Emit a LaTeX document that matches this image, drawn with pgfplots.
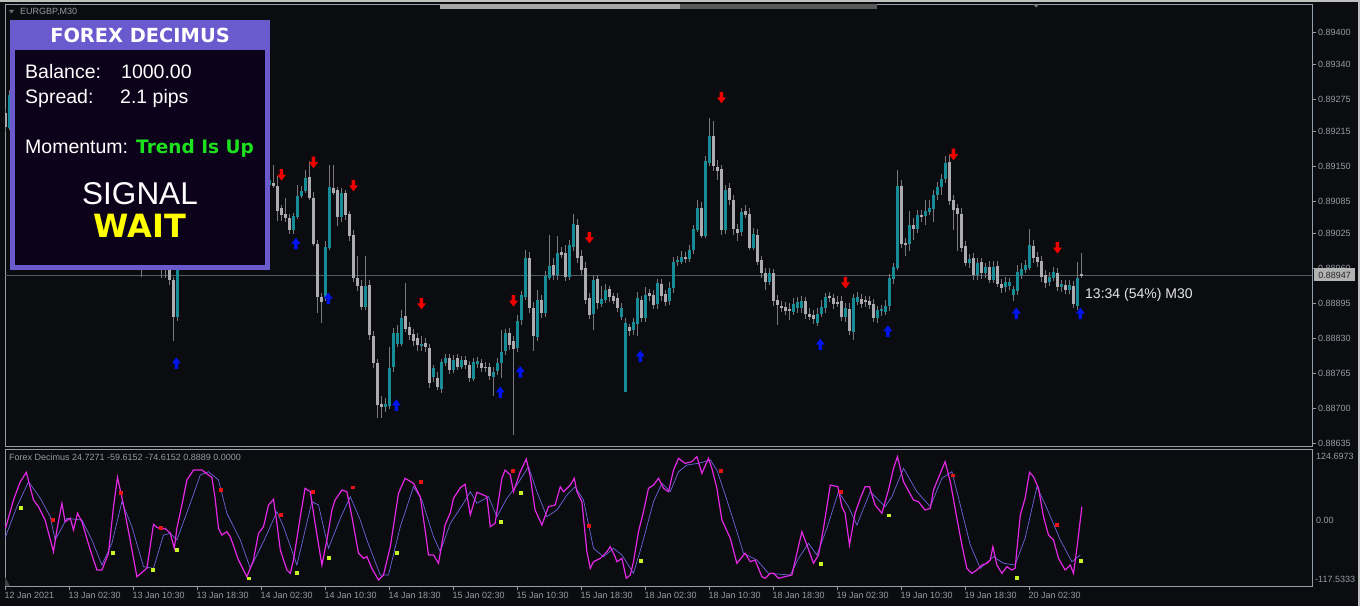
\documentclass[border=0pt]{standalone}
\usepackage{pgfplots}
\pgfplotsset{compat=1.18}
\usepackage{pgfplotstable}
\usepackage{fontspec}
\setmainfont{Liberation Sans}
\newfontfamily\djv{DejaVu Sans}

\definecolor{bg}{RGB}{10,12,16}
\definecolor{framecol}{RGB}{150,160,170}
\definecolor{labcol}{RGB}{150,156,162}
\definecolor{upcol}{RGB}{22,140,150}
\definecolor{dncol}{RGB}{172,172,176}
\definecolor{wickcol}{RGB}{120,120,126}
\definecolor{pricecol}{RGB}{80,92,102}
\definecolor{magcol}{RGB}{228,40,228}
\definecolor{sigcol}{RGB}{108,100,220}
\definecolor{dotred}{RGB}{230,20,20}
\definecolor{dotyel}{RGB}{200,245,40}
\definecolor{arrred}{RGB}{240,0,0}
\definecolor{arrblue}{RGB}{0,20,235}
\definecolor{panelborder}{RGB}{106,90,205}
\definecolor{panelbg}{RGB}{12,3,26}
\definecolor{trendgreen}{RGB}{30,225,30}
\definecolor{waityellow}{RGB}{255,255,0}

\pgfdeclareplotmark{dnarrow}{%
  \pgfpathmoveto{\pgfqpoint{-1.75pt}{6pt}}%
  \pgfpathlineto{\pgfqpoint{1.75pt}{6pt}}%
  \pgfpathlineto{\pgfqpoint{1.75pt}{0.5pt}}%
  \pgfpathlineto{\pgfqpoint{4.5pt}{0.5pt}}%
  \pgfpathlineto{\pgfqpoint{0pt}{-5.5pt}}%
  \pgfpathlineto{\pgfqpoint{-4.5pt}{0.5pt}}%
  \pgfpathlineto{\pgfqpoint{-1.75pt}{0.5pt}}%
  \pgfpathclose\pgfusepathqfill}
\pgfdeclareplotmark{uparrow}{%
  \pgfpathmoveto{\pgfqpoint{-1.75pt}{-6pt}}%
  \pgfpathlineto{\pgfqpoint{1.75pt}{-6pt}}%
  \pgfpathlineto{\pgfqpoint{1.75pt}{-0.5pt}}%
  \pgfpathlineto{\pgfqpoint{4.5pt}{-0.5pt}}%
  \pgfpathlineto{\pgfqpoint{0pt}{5.5pt}}%
  \pgfpathlineto{\pgfqpoint{-4.5pt}{-0.5pt}}%
  \pgfpathlineto{\pgfqpoint{-1.75pt}{-0.5pt}}%
  \pgfpathclose\pgfusepathqfill}

% EURGBP M30 candles: bar index, open, high, low, close
\pgfplotstableread{
i o h l c
0 0.89250 0.89259 0.89216 0.89224
1 0.89222 0.89292 0.89218 0.89283
2 0.89283 0.89292 0.89255 0.89265
3 0.89265 0.89296 0.89259 0.89289
4 0.89289 0.89311 0.89283 0.89302
5 0.89302 0.89308 0.89266 0.89274
6 0.89274 0.89281 0.89244 0.89252
7 0.89252 0.89272 0.89246 0.89265
8 0.89265 0.89270 0.89225 0.89233
9 0.89233 0.89240 0.89201 0.89209
10 0.89209 0.89218 0.89190 0.89199
11 0.89199 0.89224 0.89194 0.89218
12 0.89218 0.89225 0.89181 0.89190
13 0.89190 0.89237 0.89185 0.89227
14 0.89227 0.89248 0.89220 0.89240
15 0.89240 0.89246 0.89211 0.89218
16 0.89218 0.89235 0.89211 0.89227
17 0.89227 0.89235 0.89192 0.89199
18 0.89199 0.89222 0.89194 0.89214
19 0.89214 0.89220 0.89173 0.89181
20 0.89181 0.89188 0.89151 0.89158
21 0.89158 0.89166 0.89134 0.89144
22 0.89144 0.89151 0.89121 0.89129
23 0.89129 0.89155 0.89121 0.89147
24 0.89147 0.89153 0.89123 0.89132
25 0.89132 0.89170 0.89127 0.89162
26 0.89162 0.89192 0.89157 0.89185
27 0.89185 0.89207 0.89177 0.89199
28 0.89199 0.89205 0.89171 0.89181
29 0.89181 0.89188 0.89136 0.89144
30 0.89144 0.89151 0.89097 0.89106
31 0.89106 0.89114 0.89062 0.89069
32 0.89069 0.89078 0.89032 0.89041
33 0.89041 0.89067 0.89034 0.89060
34 0.89060 0.89065 0.88944 0.89013
35 0.89013 0.89035 0.89004 0.89028
36 0.89028 0.89054 0.89021 0.89047
37 0.89047 0.89052 0.89013 0.89022
38 0.89022 0.89043 0.89013 0.89035
39 0.89035 0.89043 0.88942 0.88994
40 0.88994 0.89013 0.88942 0.89004
41 0.89004 0.89013 0.88929 0.88939
42 0.88939 0.88946 0.88827 0.88870
43 0.88870 0.88994 0.88864 0.88985
44 0.88985 0.89032 0.88980 0.89022
45 0.89022 0.89069 0.89017 0.89060
46 0.89060 0.89106 0.89054 0.89097
47 0.89097 0.89134 0.89091 0.89125
48 0.89125 0.89140 0.89099 0.89106
49 0.89106 0.89162 0.89101 0.89144
50 0.89144 0.89151 0.89106 0.89116
51 0.89116 0.89125 0.89078 0.89088
52 0.89088 0.89097 0.89050 0.89060
53 0.89060 0.89088 0.89052 0.89078
54 0.89078 0.89086 0.89041 0.89050
55 0.89050 0.89073 0.89043 0.89065
56 0.89065 0.89073 0.89032 0.89041
57 0.89041 0.89050 0.89013 0.89022
58 0.89022 0.89043 0.89015 0.89035
59 0.89035 0.89043 0.89004 0.89013
60 0.89013 0.89041 0.89006 0.89032
61 0.89032 0.89058 0.89026 0.89050
62 0.89050 0.89088 0.89045 0.89078
63 0.89078 0.89088 0.89058 0.89065
64 0.89065 0.89106 0.89060 0.89097
65 0.89097 0.89125 0.89091 0.89116
66 0.89116 0.89132 0.89110 0.89125
67 0.89119 0.89153 0.89110 0.89114
68 0.89116 0.89134 0.89050 0.89069
69 0.89073 0.89080 0.89050 0.89060
70 0.89062 0.89091 0.89047 0.89054
71 0.89054 0.89062 0.89024 0.89032
72 0.89032 0.89065 0.89026 0.89058
73 0.89058 0.89116 0.89054 0.89097
74 0.89097 0.89114 0.89091 0.89106
75 0.89106 0.89144 0.89102 0.89130
76 0.89132 0.89162 0.89088 0.89093
77 0.89093 0.89102 0.89002 0.89007
78 0.89007 0.89013 0.88877 0.88907
79 0.88907 0.88916 0.88860 0.88898
80 0.88907 0.89013 0.88901 0.89000
81 0.89000 0.89153 0.88994 0.89112
82 0.89110 0.89153 0.89097 0.89102
83 0.89106 0.89114 0.89041 0.89056
84 0.89056 0.89110 0.89047 0.89101
85 0.89101 0.89106 0.89050 0.89060
86 0.89062 0.89069 0.89013 0.89021
87 0.89022 0.89032 0.88935 0.88942
88 0.88942 0.88985 0.88920 0.88927
89 0.88929 0.88939 0.88883 0.88890
90 0.88890 0.88985 0.88883 0.88929
91 0.88929 0.88939 0.88827 0.88836
92 0.88836 0.88845 0.88775 0.88784
93 0.88784 0.88793 0.88683 0.88706
94 0.88709 0.88724 0.88683 0.88704
95 0.88704 0.88719 0.88693 0.88709
96 0.88706 0.88814 0.88700 0.88777
97 0.88777 0.88849 0.88767 0.88840
98 0.88821 0.88855 0.88814 0.88842
99 0.88821 0.88883 0.88816 0.88870
100 0.88873 0.88933 0.88842 0.88849
101 0.88851 0.88860 0.88827 0.88836
102 0.88840 0.88849 0.88818 0.88827
103 0.88831 0.88840 0.88808 0.88818
104 0.88818 0.88836 0.88808 0.88821
105 0.88821 0.88831 0.88804 0.88814
106 0.88814 0.88821 0.88739 0.88749
107 0.88758 0.88782 0.88750 0.88775
108 0.88758 0.88767 0.88734 0.88741
109 0.88736 0.88793 0.88730 0.88786
110 0.88784 0.88801 0.88778 0.88793
111 0.88793 0.88801 0.88765 0.88771
112 0.88771 0.88799 0.88765 0.88791
113 0.88793 0.88801 0.88771 0.88777
114 0.88778 0.88797 0.88773 0.88790
115 0.88790 0.88797 0.88773 0.88780
116 0.88780 0.88788 0.88749 0.88756
117 0.88756 0.88793 0.88750 0.88786
118 0.88782 0.88795 0.88775 0.88788
119 0.88786 0.88793 0.88769 0.88777
120 0.88777 0.88786 0.88767 0.88775
121 0.88777 0.88784 0.88752 0.88760
122 0.88760 0.88778 0.88724 0.88769
123 0.88769 0.88793 0.88762 0.88784
124 0.88784 0.88845 0.88756 0.88806
125 0.88806 0.88849 0.88799 0.88840
126 0.88840 0.88849 0.88808 0.88818
127 0.88827 0.88836 0.88650 0.88812
128 0.88812 0.88873 0.88804 0.88864
129 0.88864 0.88920 0.88857 0.88911
130 0.88907 0.88994 0.88901 0.88980
131 0.88980 0.88991 0.88879 0.88888
132 0.88888 0.88898 0.88808 0.88836
133 0.88832 0.88920 0.88825 0.88901
134 0.88901 0.88911 0.88868 0.88877
135 0.88877 0.88957 0.88871 0.88946
136 0.88944 0.89022 0.88939 0.88967
137 0.88967 0.88980 0.88939 0.88948
138 0.88948 0.89022 0.88940 0.88989
139 0.88991 0.89000 0.88980 0.88987
140 0.88989 0.89004 0.88937 0.88944
141 0.88944 0.89013 0.88939 0.89004
142 0.89000 0.89063 0.88994 0.89043
143 0.89043 0.89054 0.88972 0.88981
144 0.88983 0.88994 0.88948 0.88957
145 0.88961 0.88972 0.88894 0.88903
146 0.88905 0.88916 0.88866 0.88873
147 0.88877 0.88948 0.88845 0.88939
148 0.88940 0.88948 0.88886 0.88896
149 0.88896 0.88929 0.88890 0.88905
150 0.88903 0.88931 0.88896 0.88922
151 0.88922 0.88929 0.88899 0.88907
152 0.88909 0.88916 0.88894 0.88901
153 0.88905 0.88914 0.88879 0.88886
154 0.88870 0.88896 0.88864 0.88886
155 0.88730 0.88868 0.88730 0.88860
156 0.88851 0.88858 0.88836 0.88844
157 0.88845 0.88868 0.88838 0.88860
158 0.88858 0.88916 0.88834 0.88905
159 0.88903 0.88911 0.88862 0.88870
160 0.88870 0.88927 0.88862 0.88913
161 0.88914 0.88924 0.88901 0.88909
162 0.88913 0.88920 0.88886 0.88894
163 0.88894 0.88942 0.88886 0.88933
164 0.88933 0.88942 0.88901 0.88909
165 0.88913 0.88920 0.88892 0.88899
166 0.88899 0.88935 0.88892 0.88924
167 0.88924 0.88983 0.88916 0.88974
168 0.88972 0.88985 0.88965 0.88976
169 0.88974 0.88993 0.88968 0.88983
170 0.88981 0.88991 0.88970 0.88978
171 0.88978 0.89004 0.88972 0.88996
172 0.88994 0.89041 0.88987 0.89034
173 0.89034 0.89088 0.89028 0.89075
174 0.89075 0.89084 0.89017 0.89022
175 0.89022 0.89171 0.89017 0.89162
176 0.89157 0.89240 0.89151 0.89207
177 0.89207 0.89237 0.89144 0.89151
178 0.89151 0.89162 0.89125 0.89144
179 0.89145 0.89153 0.89022 0.89032
180 0.89032 0.89116 0.89026 0.89108
181 0.89110 0.89119 0.89078 0.89088
182 0.89089 0.89097 0.89022 0.89035
183 0.89035 0.89043 0.89013 0.89028
184 0.89028 0.89075 0.89022 0.89065
185 0.89069 0.89078 0.89054 0.89062
186 0.89063 0.89073 0.88994 0.89000
187 0.89000 0.89035 0.88994 0.89026
188 0.89024 0.89035 0.88967 0.88974
189 0.88976 0.88985 0.88944 0.88952
190 0.88952 0.88961 0.88920 0.88935
191 0.88935 0.88961 0.88929 0.88952
192 0.88952 0.88961 0.88892 0.88899
193 0.88901 0.88911 0.88855 0.88892
194 0.88892 0.88901 0.88879 0.88888
195 0.88888 0.88898 0.88873 0.88881
196 0.88885 0.88896 0.88864 0.88881
197 0.88881 0.88905 0.88873 0.88896
198 0.88886 0.88907 0.88879 0.88898
199 0.88886 0.88909 0.88879 0.88899
200 0.88899 0.88909 0.88868 0.88875
201 0.88877 0.88886 0.88864 0.88871
202 0.88873 0.88883 0.88858 0.88866
203 0.88860 0.88886 0.88853 0.88877
204 0.88877 0.88901 0.88870 0.88890
205 0.88886 0.88916 0.88879 0.88907
206 0.88909 0.88918 0.88898 0.88905
207 0.88905 0.88914 0.88886 0.88894
208 0.88899 0.88909 0.88888 0.88896
209 0.88899 0.88909 0.88862 0.88870
210 0.88870 0.88896 0.88862 0.88886
211 0.88886 0.88896 0.88836 0.88844
212 0.88842 0.88913 0.88827 0.88905
213 0.88899 0.88916 0.88892 0.88907
214 0.88905 0.88914 0.88888 0.88896
215 0.88901 0.88911 0.88890 0.88898
216 0.88899 0.88909 0.88885 0.88892
217 0.88894 0.88903 0.88860 0.88868
218 0.88868 0.88892 0.88860 0.88883
219 0.88881 0.88894 0.88873 0.88885
220 0.88881 0.88901 0.88873 0.88892
221 0.88890 0.88952 0.88883 0.88942
222 0.88940 0.88972 0.88933 0.88963
223 0.88963 0.89144 0.88957 0.89116
224 0.89114 0.89125 0.88998 0.89007
225 0.89007 0.89017 0.88985 0.89006
226 0.89006 0.89069 0.88994 0.89041
227 0.89041 0.89054 0.89013 0.89034
228 0.89034 0.89069 0.89026 0.89060
229 0.89060 0.89069 0.89047 0.89058
230 0.89058 0.89088 0.89041 0.89067
231 0.89067 0.89088 0.89060 0.89073
232 0.89071 0.89106 0.89047 0.89097
233 0.89097 0.89121 0.89088 0.89112
234 0.89112 0.89136 0.89097 0.89127
235 0.89127 0.89171 0.89121 0.89157
236 0.89158 0.89171 0.89078 0.89086
237 0.89088 0.89097 0.89032 0.89069
238 0.89073 0.89082 0.88994 0.89062
239 0.89063 0.89073 0.88991 0.89000
240 0.89002 0.89013 0.88965 0.88972
241 0.88970 0.88987 0.88961 0.88978
242 0.88980 0.88989 0.88939 0.88948
243 0.88948 0.88981 0.88939 0.88972
244 0.88972 0.88981 0.88942 0.88952
245 0.88952 0.88972 0.88944 0.88963
246 0.88965 0.88974 0.88933 0.88940
247 0.88940 0.88974 0.88933 0.88965
248 0.88965 0.88974 0.88926 0.88933
249 0.88933 0.88942 0.88916 0.88926
250 0.88926 0.88944 0.88916 0.88935
251 0.88929 0.88944 0.88920 0.88935
252 0.88911 0.88929 0.88901 0.88922
253 0.88918 0.88967 0.88911 0.88954
254 0.88950 0.88972 0.88942 0.88961
255 0.88959 0.88976 0.88952 0.88967
256 0.88963 0.89034 0.88957 0.89006
257 0.89002 0.89013 0.88970 0.88980
258 0.88981 0.88991 0.88963 0.88972
259 0.88974 0.88983 0.88935 0.88944
260 0.88948 0.88957 0.88924 0.88933
261 0.88935 0.88954 0.88927 0.88944
262 0.88944 0.88963 0.88937 0.88954
263 0.88952 0.88961 0.88918 0.88926
264 0.88926 0.88940 0.88918 0.88931
265 0.88929 0.88939 0.88913 0.88920
266 0.88920 0.88939 0.88913 0.88929
267 0.88927 0.88937 0.88886 0.88894
268 0.88890 0.88972 0.88883 0.88942
269 0.88952 0.88989 0.88942 0.88947
}\candles

% Forex Decimus oscillator, main line
\pgfplotstableread{
i v
0 -15.5
2.0 34.5
3.7 66.9
5.2 83.5
7.0 34.5
8.25 22.7
9.9 -0.9
12.0 -56.9
12.85 -18.5
14.1 28.7
14.9 -3.9
16.2 2.1
17.0 -18.5
18.0 11.0
19.1 -3.9
21.2 -53.9
22.85 -89.3
24.1 -89.3
25.75 -59.7
27.0 22.7
28.0 74.6
29.5 25.7
31.0 -30.4
32.85 -101.1
35.35 -86.3
37.0 -8.5
37.85 -13.8
39.1 -17.3
39.9 -15.5
41.2 -24.4
42.2 -50.9
42.85 -15.5
44.1 25.7
45.35 69.9
47.0 87.5
49.1 87.5
50.75 78.7
51.6 74.6
52.4 37.5
53.25 -15.5
54.1 -27.4
55.35 -21.5
56.2 -30.4
58.25 -71.6
60.35 -101.1
62.0 -71.6
63.25 -24.4
64.5 -12.7
65.75 25.7
67.0 35.7
67.85 -6.7
68.7 -53.9
70.35 -89.3
71.2 -95.1
72.0 -71.6
73.7 5.0
74.9 55.2
76.2 49.2
77.4 -6.7
79.1 -80.4
80.35 -36.2
81.6 16.8
82.4 34.5
84.1 52.2
85.35 49.2
86.6 5.0
88.25 -59.7
89.5 -68.6
90.35 -65.7
91.6 -86.3
93.25 -106.9
94.5 -98.1
96.2 -48.1
98.25 46.3
99.9 72.9
102.0 64.0
103.7 40.3
104.9 -18.5
105.75 -62.7
107.0 -62.7
108.25 -77.4
109.9 -9.7
111.2 12.0
112.0 37.5
113.7 56.2
114.9 62.3
116.2 8.0
117.85 48.1
119.5 43.3
120.35 40.3
121.2 -12.7
122.4 -6.7
124.1 72.9
124.9 87.5
126.2 78.7
127.0 49.2
128.7 84.5
130.2 107.0
131.2 75.7
132.4 16.8
134.1 -9.7
135.75 22.7
137.4 25.7
138.7 58.0
139.5 49.2
141.2 61.0
142.2 72.9
142.85 49.2
144.1 31.5
145.35 -56.9
146.2 -86.3
147.0 -74.6
148.7 -68.6
150.35 -56.9
151.2 -48.1
152.4 -65.7
152.85 -74.6
154.1 -68.6
155.2 -103.9
156.2 -98.1
157.0 -74.6
158.25 -21.5
159.5 13.8
160.75 55.2
162.0 61.0
163.25 72.9
164.5 55.2
165.75 49.2
167.0 87.5
168.25 108.2
169.9 99.4
171.6 102.2
172.85 111.1
174.1 81.7
175.75 108.2
176.6 90.5
177.85 55.2
179.1 -0.9
181.2 -33.2
182.85 -77.4
184.9 -59.7
186.2 -74.6
187.4 -71.6
189.1 -101.1
189.9 -103.9
191.2 -95.1
192.0 -95.1
193.25 -103.9
194.9 -101.1
196.6 -98.1
197.85 -59.7
199.1 -21.5
200.35 -45.1
202.0 -77.4
203.25 -62.7
204.5 -15.5
206.2 61.0
208.1 58.0
209.1 22.7
209.9 11.0
211.0 -45.1
212.4 11.0
213.7 37.5
214.9 58.0
216.0 58.0
217.4 25.7
219.1 11.0
220.75 52.2
222.0 90.5
223.0 111.1
224.5 66.9
227.0 34.5
228.25 31.5
229.9 16.8
231.2 19.8
232.0 52.2
233.7 81.7
234.9 102.2
236.2 66.9
237.85 2.1
239.1 -45.1
240.35 -86.3
241.6 -95.1
242.85 -89.3
244.1 -80.4
245.35 -77.4
246.2 -71.6
246.85 -48.1
247.85 -80.4
249.1 -95.1
250.35 -83.4
251.6 -89.3
252.4 -86.3
253.7 8.0
254.9 37.5
256.0 83.5
257.0 75.7
258.25 55.2
259.5 5.0
260.75 -27.4
262.0 -36.2
263.25 -68.6
264.9 -89.3
266.2 -80.4
267.0 -95.1
267.85 -50.9
269.1 22.7
}\magline

% signal line
\pgfplotstableread{
i v
0 -30.4
2.85 22.7
5.75 66.9
8.7 37.5
11.2 5.0
12.4 -36.2
15.35 2.1
19.1 -0.9
21.6 -36.2
24.1 -80.4
26.6 -42.1
29.1 31.5
31.6 -12.7
34.5 -83.4
37.0 -86.3
39.5 -27.4
41.2 -24.4
42.85 -36.2
46.2 28.7
48.7 78.7
50.75 84.5
53.25 69.9
55.35 11.0
58.7 -36.2
61.2 -86.3
64.5 -39.2
67.85 13.8
69.5 -12.7
72.85 -80.4
76.6 31.5
78.25 25.7
80.75 -50.9
83.7 2.1
86.2 40.3
88.7 -0.9
90.35 -36.2
93.7 -98.1
95.75 -98.1
98.7 -12.7
102.0 58.0
104.1 34.5
107.0 -30.4
108.7 -56.9
111.2 -6.7
114.5 28.7
116.2 49.2
117.85 28.7
120.75 40.3
122.85 5.0
125.35 37.5
127.85 61.0
130.75 93.4
132.85 49.2
135.35 5.0
137.85 16.8
140.35 43.3
142.4 58.0
144.5 34.5
147.0 -50.9
149.5 -65.7
152.0 -50.9
154.1 -62.7
157.0 -95.1
159.1 -45.1
162.0 31.5
164.1 64.0
166.2 49.2
168.25 84.5
170.35 96.4
173.25 99.4
176.2 105.2
177.85 87.5
180.35 34.5
182.85 -21.5
184.5 -59.7
187.85 -71.6
190.75 -95.1
196.2 -98.1
198.25 -68.6
200.75 -42.1
202.85 -62.7
205.35 -15.5
208.25 49.2
210.75 22.7
212.85 -9.7
216.2 49.2
219.9 22.7
221.6 40.3
224.5 90.5
227.85 49.2
231.2 22.7
234.1 72.9
236.6 84.5
238.7 25.7
241.2 -45.1
243.7 -86.3
247.0 -65.7
249.5 -77.4
252.4 -80.4
254.9 -33.2
257.85 58.0
260.35 19.8
263.7 -36.2
266.6 -74.6
268.7 -62.7
}\sigline

\begin{document}
\begin{tikzpicture}[x=1pt,y=1pt]
\fill[bg] (0,0) rectangle (1360,606);
\useasboundingbox (0,0) rectangle (1360,606);
% window edges
\fill[black!25] (0,604) rectangle (1360,606);
\fill[black!25] (1358,0) rectangle (1360,606);

% ---------- price panel ----------
\begin{axis}[
  at={(5pt,159.3pt)}, anchor=south west,
  scale only axis, width=1307pt, height=442.7pt,
  xmin=-0.125, xmax=326.625,
  ymin=0.88628, ymax=0.894527,
  axis line style={framecol, line width=0.8pt},
  xtick=\empty,
  ytick={0.89400,0.89340,0.89275,0.89215,0.89150,0.89085,0.89025,0.88960,0.88895,0.88830,0.88765,0.88700,0.88635},
  yticklabels={0.89400,0.89340,0.89275,0.89215,0.89150,0.89085,0.89025,0.88960,0.88895,0.88830,0.88765,0.88700,0.88635},
  scaled y ticks=false,
  ytick pos=right, yticklabel pos=right,
  tick align=outside, major tick length=4pt,
  tick style={labcol, line width=0.6pt},
  yticklabel style={font=\fontsize{9}{10}\selectfont, text=labcol, anchor=west, inner sep=0pt, xshift=2pt},
]
\addplot[pricecol, line width=0.8pt, forget plot] coordinates {(-1,0.88947) (330,0.88947)};
% wicks
\addplot[draw=none, mark=none, forget plot,
  error bars/.cd, y dir=both, y explicit, error mark=none,
  error bar style={draw=wickcol, line width=1pt}]
  table[x=i, y expr={(\thisrow{h}+\thisrow{l})/2}, y error expr={(\thisrow{h}-\thisrow{l})/2}] {\candles};
% bullish bodies
\addplot[draw=none, mark=none, forget plot,
  restrict expr to domain={\thisrow{c}-\thisrow{o}}{0:1},
  error bars/.cd, y dir=both, y explicit, error mark=none,
  error bar style={draw=upcol, line width=3pt}]
  table[x=i, y expr={(\thisrow{o}+\thisrow{c})/2}, y error expr={max(abs(\thisrow{c}-\thisrow{o})/2,0.000009)}] {\candles};
% bearish bodies
\addplot[draw=none, mark=none, forget plot,
  restrict expr to domain={\thisrow{c}-\thisrow{o}}{-1:-0.000001},
  error bars/.cd, y dir=both, y explicit, error mark=none,
  error bar style={draw=dncol, line width=3pt}]
  table[x=i, y expr={(\thisrow{o}+\thisrow{c})/2}, y error expr={max(abs(\thisrow{c}-\thisrow{o})/2,0.000009)}] {\candles};
% sell arrows
\addplot[only marks, mark=dnarrow, arrred] coordinates {
(69,0.89134) (77,0.89157) (87,0.89114) (104,0.88894) (127,0.88899)
(146,0.89017) (179,0.89278) (210,0.88933) (237,0.89172) (263,0.88998)};
% buy arrows
\addplot[only marks, mark=uparrow, arrblue] coordinates {
(42.7,0.88784) (72.6,0.89007) (80.7,0.88905) (97.7,0.88706) (123.7,0.88730)
(128.7,0.88768) (158.7,0.88797) (203.7,0.88819) (220.6,0.88844) (252.7,0.88877) (268.7,0.88877)};
\end{axis}

% ---------- oscillator panel ----------
\begin{axis}[
  at={(5pt,20pt)}, anchor=south west,
  scale only axis, width=1307pt, height=137pt,
  xmin=-0.125, xmax=326.625,
  ymin=-117.5333, ymax=124.6973,
  axis line style={framecol, line width=0.8pt},
  ytick=\empty,
  xtick={0,16,...,256},
  xticklabels={12 Jan 2021,13 Jan 02:30,13 Jan 10:30,13 Jan 18:30,14 Jan 02:30,14 Jan 10:30,14 Jan 18:30,15 Jan 02:30,15 Jan 10:30,15 Jan 18:30,18 Jan 02:30,18 Jan 10:30,18 Jan 18:30,19 Jan 02:30,19 Jan 10:30,19 Jan 18:30,20 Jan 02:30},
  xtick pos=left, tick align=outside, major tick length=4pt,
  tick style={labcol, line width=0.6pt},
  xticklabel style={font=\fontsize{9}{10}\selectfont, text=labcol, anchor=north west, inner sep=0pt, xshift=-1pt, yshift=-2pt},
]
\addplot[sigcol, line width=0.7pt] table[x=i, y=v] {\sigline};
\addplot[magcol, line width=1.2pt] table[x=i, y=v] {\magline};
\addplot[only marks, mark=square*, mark size=1.4pt, dotyel] coordinates {
(3.85,20.9) (26.75,-58.0) (36.85,-88.0) (42.85,-52.7) (60.75,-103.9) (72.85,-94.0)
(80.75,-66.8) (97.85,-58.0) (123.75,-3.2) (128.75,48.1) (158.75,-72.1) (203.75,-78.7)
(220.75,7.5) (252.75,-102.2) (268.85,-73.3)};
\addplot[only marks, mark=square*, mark size=1.4pt, dotred] coordinates {
(11.75,0.4) (28.85,48.1) (38.85,-13.8) (53.85,53.4) (68.85,9.2) (76.85,49.9) (86.85,57.0)
(103.85,66.9) (126.85,85.8) (145.75,-11.5) (178.9,87.0) (208.85,49.9) (236.85,78.2) (262.85,-8.5)};
\end{axis}

% oscillator scale labels
\begin{scope}[every node/.style={font=\fontsize{9}{10}\selectfont, text=labcol, anchor=west, inner sep=0pt}]
\node at (1316,150) {124.6973};
\node at (1316,85.7) {0.00};
\node at (1315,26.7) {-117.5333};
\node at (9,149) {Forex Decimus 24.7271 -59.6152 -74.6152 0.8889 0.0000};
\node at (20,594) {EURGBP,M30};
\end{scope}
\fill[labcol!70!bg] (9,596) -- (14,596) -- (11.5,592.5) -- cycle;
\fill[black!60!framecol] (5,20) -- (10,20) -- (5,29) -- cycle;

% top scroll bar
\fill[black!65] (440,597) rectangle (877,602);
\fill[black!35] (440,597) rectangle (680,602);
\fill[black!55] (1033,601.5) -- (1039,601.5) -- (1036,598.5) -- cycle;

% current price tag and timer
\node[fill=black!30, text=black!85, font=\fontsize{9}{10}\selectfont, inner sep=0pt,
      minimum width=41pt, minimum height=13pt] at (1334.5,331) {0.88947};
\node[anchor=west, text=white!90!black, font=\fontsize{14}{15}\selectfont, inner sep=0pt]
      at (1085,311) {13:34 (54\%) M30};

% info panel
\fill[panelborder] (10,586) rectangle (270,336);
\fill[panelbg] (15,556) rectangle (265,341);
\node[anchor=base, text=white, font=\djv\bfseries\fontsize{19.4}{20}\selectfont] at (140,563.7) {FOREX DECIMUS};
\begin{scope}[every node/.style={anchor=base west, text=white, inner sep=0pt, font=\fontsize{19.5}{20}\selectfont}]
\node at (25,527.7) {Balance:};
\node at (121,527.7) {1000.00};
\node at (25,502) {Spread:};
\node at (120,502) {2.1 pips};
\node at (25,452) {Momentum:};
\end{scope}
\node[anchor=base west, inner sep=0pt, text=trendgreen, font=\djv\bfseries\fontsize{18.5}{20}\selectfont] at (136,452) {Trend Is Up};
\node[anchor=base, inner sep=0pt, text=white, font=\fontsize{31.5}{32}\selectfont] at (140,401) {SIGNAL};
\node[anchor=base, inner sep=0pt, text=waityellow, font=\djv\bfseries\fontsize{32}{33}\selectfont] at (140,368.7) {WAIT};
\end{tikzpicture}
\end{document}
